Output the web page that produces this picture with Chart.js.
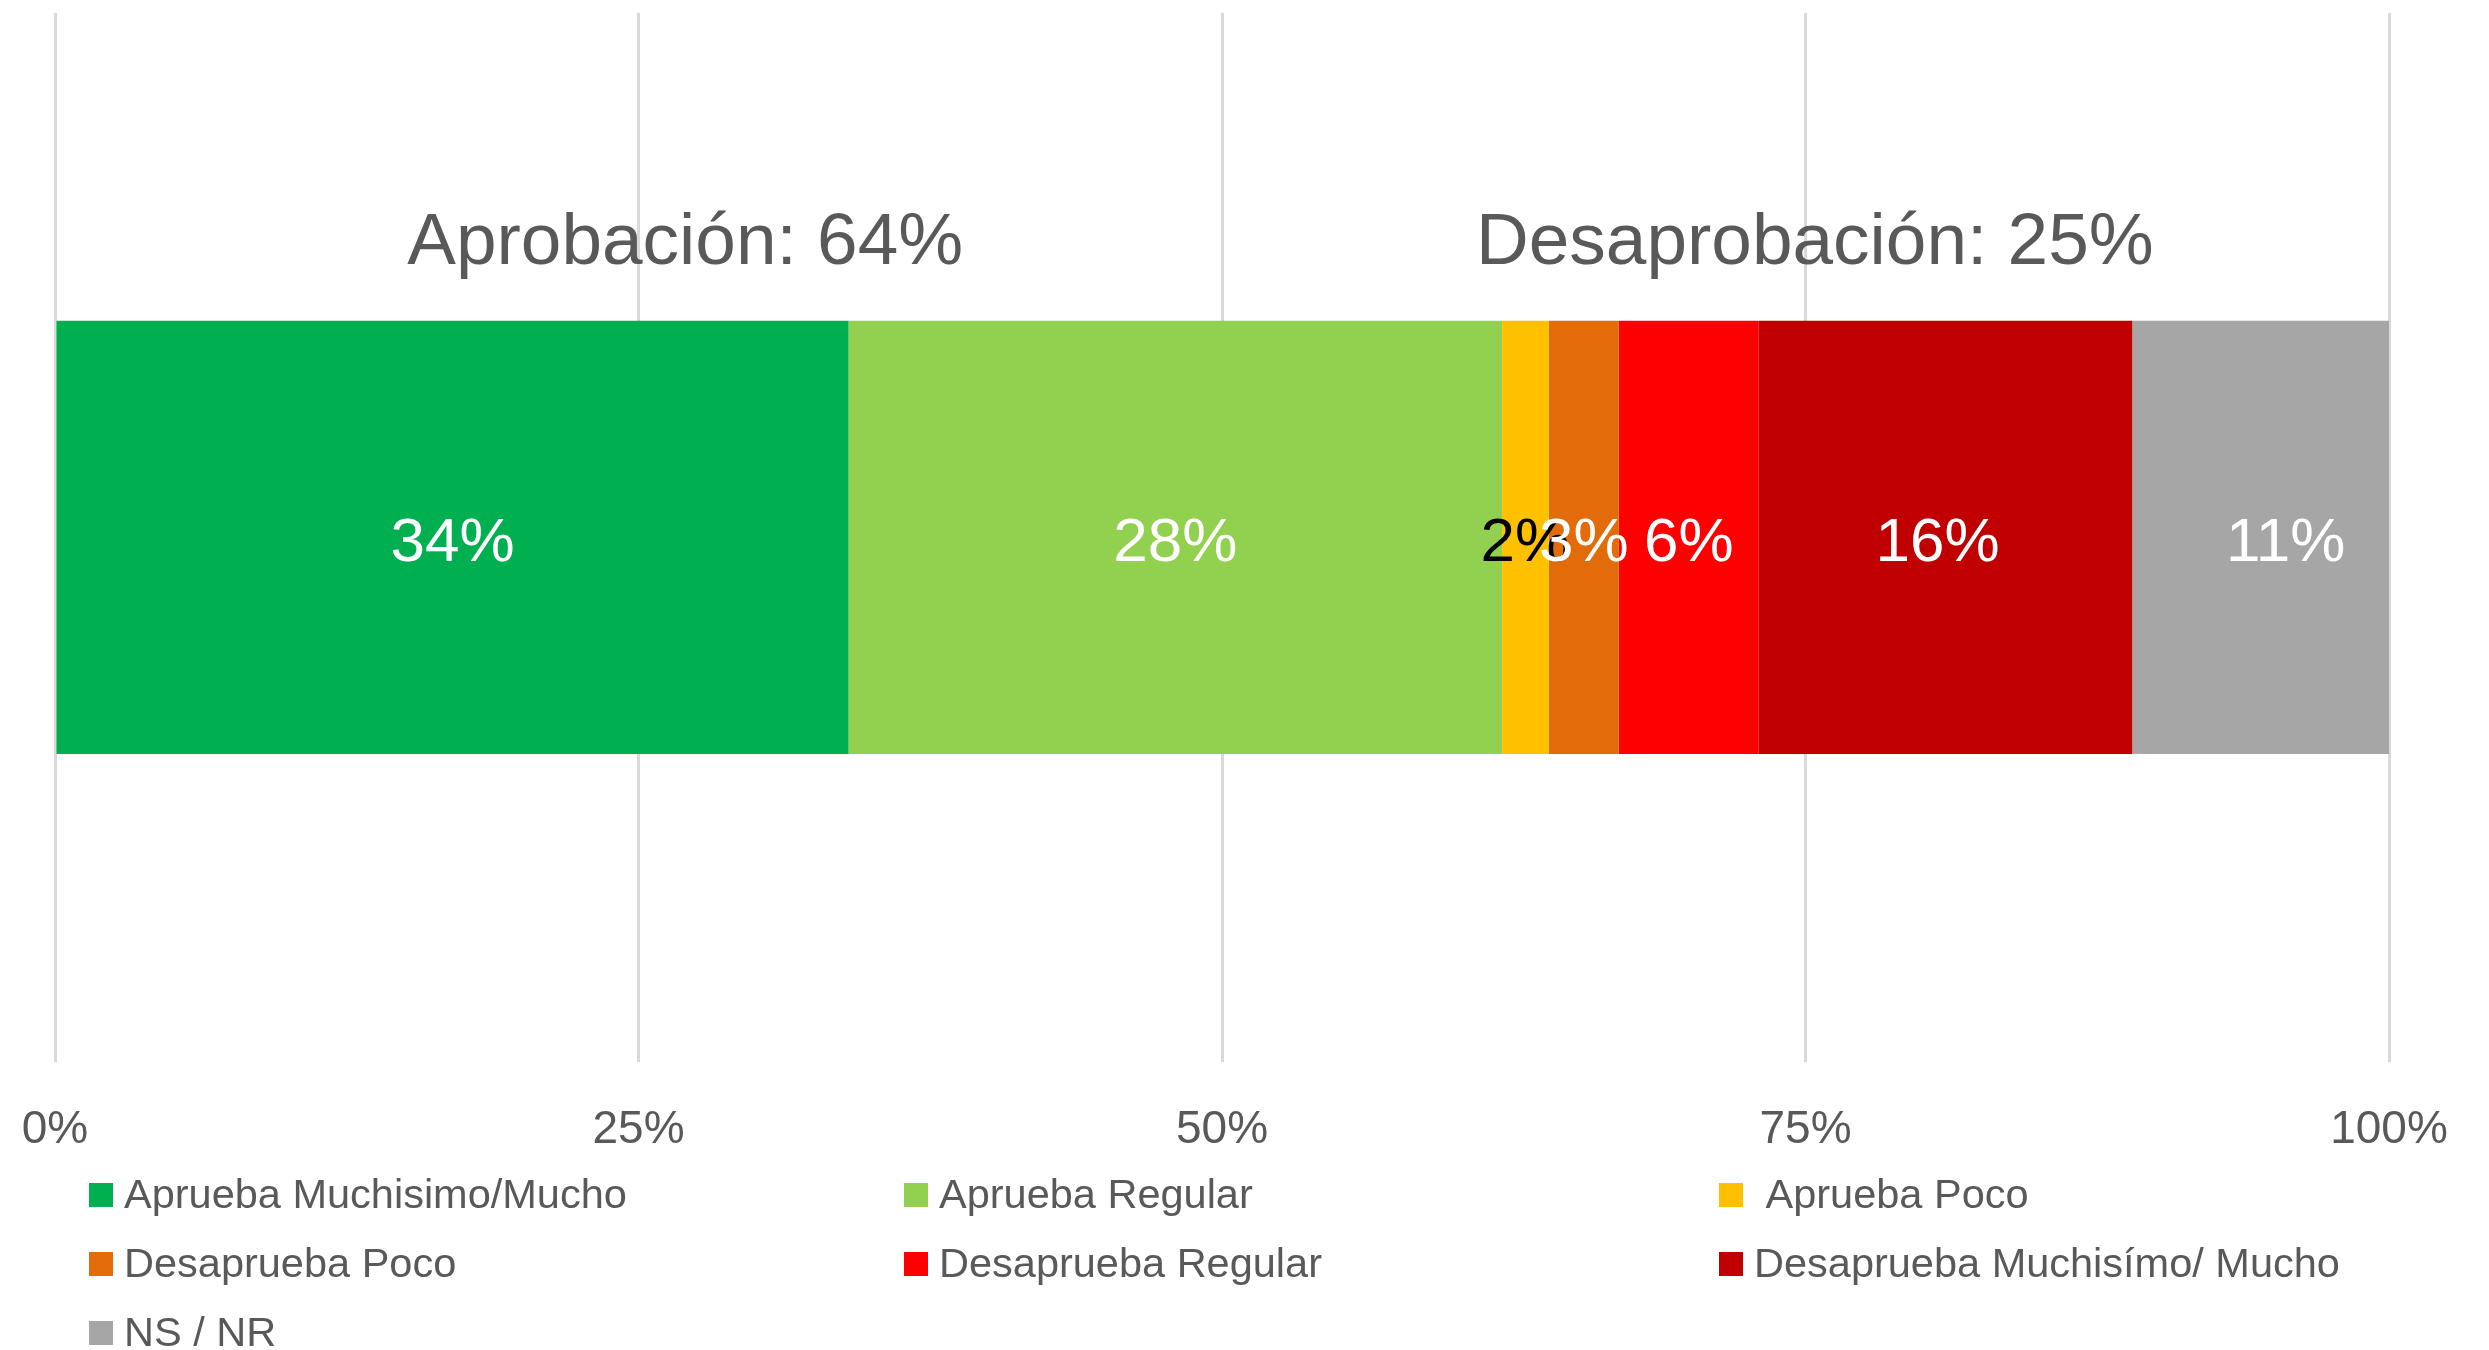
<!DOCTYPE html>
<html lang="es">
<head>
<meta charset="utf-8">
<script src="https://cdn.jsdelivr.net/npm/chart.js@4.4.1/dist/chart.umd.min.js"></script>
<style>
    html, body { margin: 0; padding: 0; background: #ffffff; }
    #wrap { width: 2489px; height: 1350px; position: relative; }
</style>
</head>
<body>
<div id="wrap"><canvas id="chart" width="2489" height="1350"></canvas></div>
<script>
// chart data
const categories = ["Gestión"];
const seriesNames = [
    "Aprueba Muchisimo/Mucho",
    "Aprueba Regular",
    " Aprueba Poco",
    "Desaprueba Poco",
    "Desaprueba Regular",
    "Desaprueba Muchisímo/ Mucho",
    "NS / NR"
];
const seriesValues = [34, 28, 2, 3, 6, 16, 11];
const seriesColors = ["#00B050", "#92D050", "#FFC000", "#E36C0A", "#FF0000", "#C00000", "#A6A6A6"];
const valueLabelColors = ["#ffffff", "#ffffff", "#000000", "#ffffff", "#ffffff", "#ffffff", "#ffffff"];
const xTicks = [0, 25, 50, 75, 100];
const approvalIdx = [0, 1, 2];
const disapprovalIdx = [3, 4, 5];

const FONT = "'Liberation Sans', Arial, sans-serif";
const GREY = "#595959";

const sumOf = (idx) => idx.reduce((acc, i) => acc + seriesValues[i], 0);
const headers = [
    { text: `Aprobación: ${sumOf(approvalIdx)}%`, at: 27 },
    { text: `Desaprobación: ${sumOf(disapprovalIdx)}%`, at: 75.4 }
];

const datasets = seriesNames.map((name, i) => ({
    label: name,
    data: [seriesValues[i]],
    backgroundColor: seriesColors[i],
    borderWidth: 0,
    barPercentage: 0.413,
    categoryPercentage: 1
}));

// value labels in the middle of each segment (a couple are nudged as in the original)
const labelNudge = [0, 0, 0, 0, 0, -8, 25];

const barLabels = {
    id: "barLabels",
    afterDatasetsDraw(chart) {
        const ctx = chart.ctx;
        ctx.save();
        ctx.font = `62px ${FONT}`;
        ctx.textAlign = "center";
        ctx.textBaseline = "middle";
        chart.data.datasets.forEach((ds, i) => {
            chart.getDatasetMeta(i).data.forEach((bar, j) => {
                const p = bar.getProps(["x", "y", "base"], true);
                ctx.fillStyle = valueLabelColors[i];
                ctx.fillText(`${ds.data[j]}%`, (p.x + p.base) / 2 + labelNudge[i], p.y + 7);
            });
        });
        ctx.restore();
    }
};

// group headers above the bar
const groupHeaders = {
    id: "groupHeaders",
    afterDatasetsDraw(chart) {
        const ctx = chart.ctx;
        const bar = chart.getDatasetMeta(0).data[0];
        const top = bar.y - bar.height / 2;
        ctx.save();
        ctx.font = `73px ${FONT}`;
        ctx.fillStyle = GREY;
        ctx.textAlign = "center";
        ctx.textBaseline = "middle";
        headers.forEach(h => {
            ctx.fillText(h.text, chart.scales.x.getPixelForValue(h.at), top - 77);
        });
        ctx.restore();
    }
};

// three column legend under the axis
const gridLegend = {
    id: "gridLegend",
    afterDraw(chart) {
        const ctx = chart.ctx;
        const left = chart.chartArea.left + 34;
        const colWidth = 815;
        const rowHeight = 69;
        const firstRow = chart.scales.x.bottom - 4;
        ctx.save();
        ctx.font = `41.5px ${FONT}`;
        ctx.textBaseline = "middle";
        ctx.textAlign = "left";
        chart.data.datasets.forEach((ds, i) => {
            const col = i % 3;
            const row = Math.floor(i / 3);
            const x = left + col * colWidth;
            const y = firstRow + row * rowHeight;
            ctx.fillStyle = ds.backgroundColor;
            ctx.fillRect(x, y - 12, 24, 24);
            ctx.fillStyle = GREY;
            ctx.fillText(ds.label, x + 35, y + 2);
        });
        ctx.restore();
    }
};

new Chart(document.getElementById("chart"), {
    type: "bar",
    data: {
        labels: categories,
        datasets
    },
    options: {
        indexAxis: "y",
        responsive: false,
        animation: false,
        layout: {
            padding: { top: 13, left: 55, right: 100, bottom: 151 }
        },
        scales: {
            x: {
                stacked: true,
                min: 0,
                max: 100,
                afterBuildTicks: (axis) => {
                    axis.ticks = xTicks.map(v => ({ value: v }));
                },
                afterFit: (axis) => {
                    axis.paddingLeft = 0;
                    axis.paddingRight = 0;
                },
                grid: {
                    color: "#d9d9d9",
                    lineWidth: 3,
                    drawTicks: false
                },
                border: { display: false },
                ticks: {
                    padding: 41,
                    color: GREY,
                    font: { family: FONT, size: 46 },
                    callback: (v) => `${v}%`
                }
            },
            y: {
                stacked: true,
                display: false
            }
        },
        plugins: {
            legend: { display: false },
            tooltip: { enabled: false }
        }
    },
    plugins: [barLabels, groupHeaders, gridLegend]
});
</script>
</body>
</html>
